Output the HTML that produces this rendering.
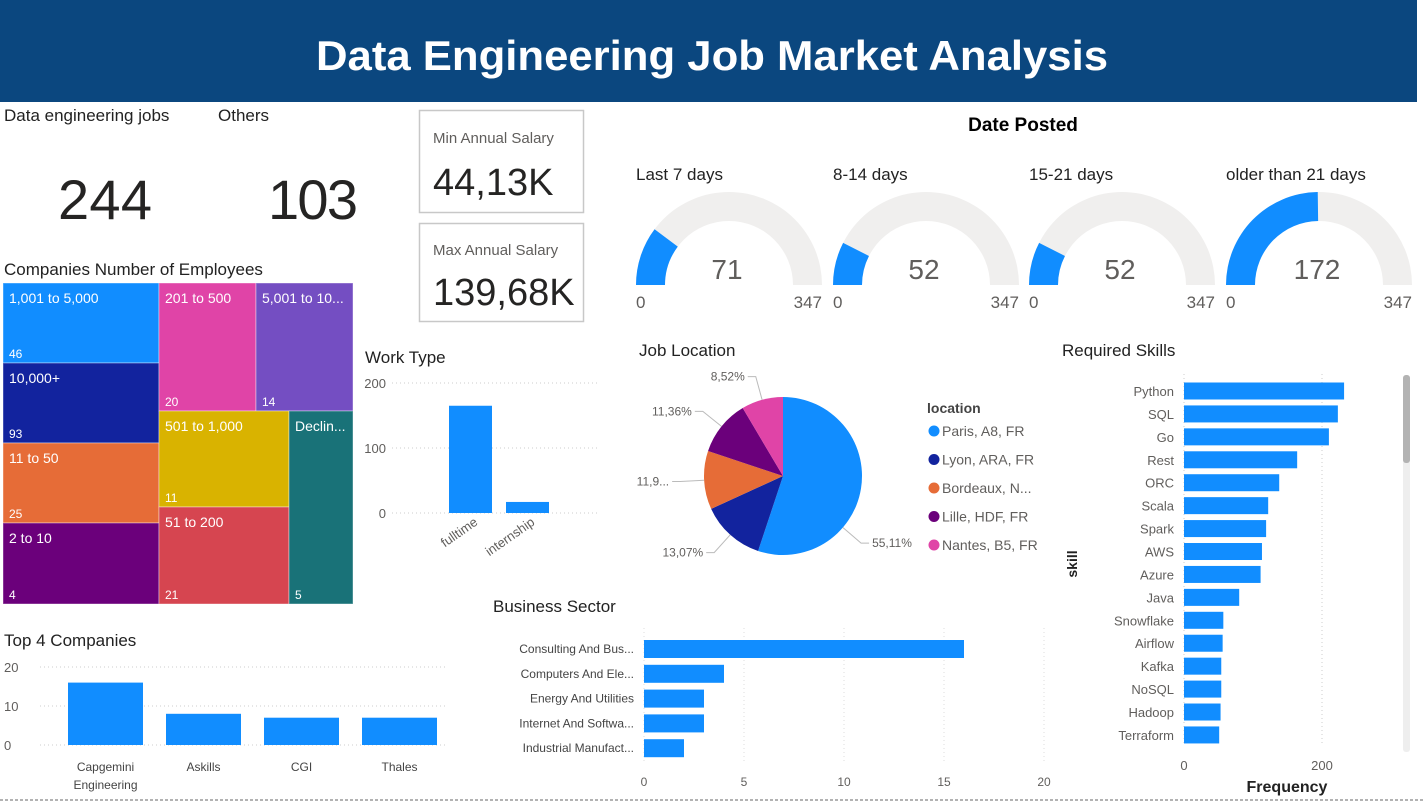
<!DOCTYPE html>
<html><head><meta charset="utf-8">
<style>
html,body{margin:0;padding:0;background:#fff;width:1424px;height:803px;overflow:hidden}
svg{display:block}
text{font-family:"Liberation Sans",sans-serif}
</style></head>
<body>
<svg id="root" width="1424" height="803" viewBox="0 0 1424 803" xmlns="http://www.w3.org/2000/svg">
<rect x="0" y="0" width="1417" height="102" fill="#0B477F"/>
<text x="712" y="70" text-anchor="middle" fill="#fff" font-size="42" font-weight="bold" textLength="792" lengthAdjust="spacingAndGlyphs">Data Engineering Job Market Analysis</text>
<line x1="0" y1="800" x2="1424" y2="800" stroke="#666" stroke-dasharray="3,2"/>

<g>
<text x="4" y="121" font-size="17" fill="#222">Data engineering jobs</text>
<text x="105" y="219" font-size="56" fill="#252423" text-anchor="middle" textLength="94">244</text>
</g>
<g>
<text x="218" y="121" font-size="17" fill="#222">Others</text>
<text x="313" y="219" font-size="56" fill="#252423" text-anchor="middle" textLength="90">103</text>
</g>
<g>
<rect x="419.5" y="110.5" width="164" height="102" fill="#fff" stroke="#c8c8c8" stroke-width="1.5"/>
<text x="433" y="143" font-size="15" fill="#605e5c">Min Annual Salary</text>
<text x="433" y="195" font-size="38" fill="#252423">44,13K</text>
</g>
<g>
<rect x="419.5" y="223.5" width="164" height="98" fill="#fff" stroke="#c8c8c8" stroke-width="1.5"/>
<text x="433" y="255" font-size="15" fill="#605e5c">Max Annual Salary</text>
<text x="433" y="305" font-size="38" fill="#252423">139,68K</text>
</g>

<text x="1023" y="131" text-anchor="middle" font-size="19" font-weight="bold" fill="#000">Date Posted</text>
<g id="gauges"></g>

<text x="4" y="275" font-size="17" fill="#222">Companies Number of Employees</text>
<g id="treemap"></g>

<text x="365" y="363" font-size="17" fill="#222">Work Type</text>
<g id="worktype"></g>

<text x="639" y="356" font-size="17" fill="#222">Job Location</text>
<g id="pie"></g>
<g id="legend"></g>

<text x="1062" y="356" font-size="17" fill="#222">Required Skills</text>
<g id="skills"></g>
<g>
<rect x="1403" y="375" width="7" height="377" rx="3" fill="#eee"/>
<rect x="1403" y="375" width="7" height="88" rx="3" fill="#b3b3b3"/>
</g>

<text x="493" y="612" font-size="17" fill="#222">Business Sector</text>
<g id="business"></g>

<text x="4" y="646" font-size="17" fill="#222">Top 4 Companies</text>
<g id="top4"></g>
</svg>
<script>
const NS="http://www.w3.org/2000/svg";
// ---- data ----
const gaugeLabels=["Last 7 days","8-14 days","15-21 days","older than 21 days"];
const gaugeValues=[71,52,52,172];
const gaugeMax=347;
const treeLabels=["1,001 to 5,000","10,000+","11 to 50","2 to 10","201 to 500","5,001 to 10...","501 to 1,000","51 to 200","Declin..."];
const treeValues=[46,93,25,4,20,14,11,21,5];
const treeColors=["#118DFF","#12239E","#E66C37","#6B007B","#E044A7","#744EC2","#D9B300","#D64550","#197278"];
const workCats=["fulltime","internship"];
const workValues=[165,17];
const workTicks=[0,100,200];
const pieCats=["Paris, A8, FR","Lyon, ARA, FR","Bordeaux, N...","Lille, HDF, FR","Nantes, B5, FR"];
const pieValues=[55.11,13.07,11.94,11.36,8.52];
const pieLabels=["55,11%","13,07%","11,9...","11,36%","8,52%"];
const pieColors=["#118DFF","#12239E","#E66C37","#6B007B","#E044A7"];
const skillCats=["Python","SQL","Go","Rest","ORC","Scala","Spark","AWS","Azure","Java","Snowflake","Airflow","Kafka","NoSQL","Hadoop","Terraform"];
const skillValues=[232,223,210,164,138,122,119,113,111,80,57,56,54,54,53,51];
const skillTicks=[0,200];
const bizCats=["Consulting And Bus...","Computers And Ele...","Energy And Utilities","Internet And Softwa...","Industrial Manufact..."];
const bizValues=[16,4,3,3,2];
const bizTicks=[0,5,10,15,20];
const topCats=[["Capgemini","Engineering"],["Askills"],["CGI"],["Thales"]];
const topValues=[16,8,7,7];
const topTicks=[0,10,20];

function el(tag,attrs,parent,txt){const e=document.createElementNS(NS,tag);for(const k in attrs)e.setAttribute(k,attrs[k]);if(txt!==undefined)e.textContent=txt;parent.appendChild(e);return e;}

// ---- gauges ----
(function(){
 const g=document.getElementById('gauges');
 const cxs=[729,926,1122,1319], cy=285, R=93, r=64;
 gaugeValues.forEach((v,i)=>{
  const cx=cxs[i];
  const grp=el('g',{},g);
  
  
  const path=(f0,f1)=>{const a0=Math.PI*(1-f0),a1=Math.PI*(1-f1);
   const P=(rad,a)=>(cx+rad*Math.cos(a)).toFixed(2)+","+(cy-rad*Math.sin(a)).toFixed(2);
   return `M${P(R,a0)} A${R},${R} 0 0 1 ${P(R,a1)} L${P(r,a1)} A${r},${r} 0 0 0 ${P(r,a0)} Z`;};
  const bg=el('path',{d:path(0,1),fill:"#F0EFEE"},grp);
  
  
  const fg=el('path',{d:path(0,v/gaugeMax),fill:"#118DFF"},grp);
  
  
  const t=el('text',{x:cx-93,y:180,"font-size":17,fill:"#222"},grp,gaugeLabels[i]);
  
  
  const vt=el('text',{x:cx-2,y:279,"font-size":28,fill:"#605e5c","text-anchor":"middle"},grp,v);
  
  
  const mn=el('text',{x:cx-93,y:308,"font-size":17,fill:"#605e5c"},grp,"0");
  
  
  const mx=el('text',{x:cx+93,y:308,"font-size":17,fill:"#605e5c","text-anchor":"end"},grp,gaugeMax);
  
  
 });
})();

// ---- treemap ----
(function(){
 const g=document.getElementById('treemap');
 const boxes=[[3,283,156,80],[3,363,156,80],[3,443,156,80],[3,523,156,81],[159,283,97,128],[256,283,97,128],[159,411,130,96],[159,507,130,97],[289,411,64,193]];
 treeValues.forEach((v,i)=>{
  const b=boxes[i];
  const grp=el('g',{},g);
  
  
  el('rect',{x:b[0],y:b[1],width:b[2],height:b[3],fill:treeColors[i],stroke:"#fff","stroke-opacity":0.4,"stroke-width":1},grp);
  el('text',{x:b[0]+6,y:b[1]+20,"font-size":14,fill:"#fff"},grp,treeLabels[i]);
  el('text',{x:b[0]+6,y:b[1]+b[3]-5,"font-size":12,fill:"#fff"},grp,v);
 });
})();

// ---- work type ----
(function(){
 const g=document.getElementById('worktype');
 const y0=513, sc=0.65, x0=442, step=57, bw=43;
 const Y=v=>y0-v*sc;
 workTicks.forEach(t=>{
  el('line',{x1:392,x2:600,y1:Y(t),y2:Y(t),stroke:"#ccc","stroke-dasharray":"1,3"},g);
  const tt=el('text',{x:386,y:Y(t)+5,"font-size":13,fill:"#605e5c","text-anchor":"end"},g,t);
  
  
 });
 workValues.forEach((v,i)=>{
  const x=x0+7+i*step;
  const r=el('rect',{x:x,y:Y(v),width:bw,height:v*sc,fill:"#118DFF"},g);
  
  
  const cx=x+bw/2+8;
  const t=el('text',{x:cx,y:524,"font-size":13,fill:"#605e5c","text-anchor":"end",transform:`rotate(-35 ${cx} 524)`},g,workCats[i]);
  
  
 });
})();

// ---- pie ----
(function(){
 const g=document.getElementById('pie');
 const cx=783, cy=476, R=79;
 const tot=pieValues.reduce((a,b)=>a+b,0);
 let a=-Math.PI/2;
 pieValues.forEach((v,i)=>{
  const sw=v/tot*2*Math.PI, a1=a+sw;
  const large=sw>Math.PI?1:0;
  const d=`M${cx},${cy} L${cx+R*Math.cos(a)},${cy+R*Math.sin(a)} A${R},${R} 0 ${large} 1 ${cx+R*Math.cos(a1)},${cy+R*Math.sin(a1)} Z`;
  const p=el('path',{d:d,fill:pieColors[i]},g);
  
  
  const m=a+sw/2+(i===0?0.55:0);
  const ex=cx+(R+24)*Math.cos(m), ey=cy+(R+24)*Math.sin(m);
  const right=Math.cos(m)>=0;
  el('polyline',{points:`${cx+R*Math.cos(m)},${cy+R*Math.sin(m)} ${ex},${ey} ${ex+(right?8:-8)},${ey}`,fill:"none",stroke:"#bbb"},g);
  const t=el('text',{x:ex+(right?11:-11),y:ey+4,"font-size":12,fill:"#605e5c","text-anchor":right?"start":"end"},g,pieLabels[i]);
  
  
  a=a1;
 });
 const lg=document.getElementById('legend');
 const lt=el('text',{x:927,y:413,"font-size":14,"font-weight":"bold",fill:"#444"},lg,"location");
 
 
 pieCats.forEach((c,i)=>{
  const y=431+i*28.5;
  const grp=el('g',{},lg);
  
  
  el('circle',{cx:934,cy:y,r:5.5,fill:pieColors[i]},grp);
  el('text',{x:942,y:y+5,"font-size":14,fill:"#605e5c"},grp,c);
 });
})();

// ---- skills ----
(function(){
 const g=document.getElementById('skills');
 const x0=1184, sc=0.69, y0=391, step=22.93, bh=17;
 const X=v=>x0+v*sc;
 skillTicks.forEach(t=>{
  el('line',{x1:X(t),x2:X(t),y1:374,y2:745,stroke:"#ccc","stroke-dasharray":"1,3"},g);
  const tt=el('text',{x:X(t),y:770,"font-size":13,fill:"#605e5c","text-anchor":"middle"},g,t);
  
  
 });
 skillValues.forEach((v,i)=>{
  const y=y0+i*step;
  const r=el('rect',{x:x0,y:y-bh/2,width:v*sc,height:bh,fill:"#118DFF"},g);
  
  
  const t=el('text',{x:1174,y:y+5,"font-size":13,fill:"#605e5c","text-anchor":"end"},g,skillCats[i]);
  
  
 });
 const ya=el('text',{x:1077,y:564,"font-size":14,"font-weight":"bold",fill:"#222","text-anchor":"middle",transform:"rotate(-90 1077 564)"},g,"skill");
 
 
 const xa=el('text',{x:1287,y:792,"font-size":16,"font-weight":"bold",fill:"#222","text-anchor":"middle"},g,"Frequency");
 
 
})();

// ---- business sector ----
(function(){
 const g=document.getElementById('business');
 const x0=644, sc=20, y0=649, step=24.8, bh=18;
 const X=v=>x0+v*sc;
 bizTicks.forEach(t=>{
  el('line',{x1:X(t),x2:X(t),y1:628,y2:762,stroke:"#ddd","stroke-dasharray":"1,3"},g);
  const tt=el('text',{x:X(t),y:786,"font-size":12,fill:"#605e5c","text-anchor":"middle"},g,t);
  
  
 });
 bizValues.forEach((v,i)=>{
  const y=y0+i*step;
  const r=el('rect',{x:x0,y:y-bh/2,width:v*sc,height:bh,fill:"#118DFF"},g);
  
  
  const t=el('text',{x:634,y:y+4,"font-size":12,fill:"#444","text-anchor":"end"},g,bizCats[i]);
  
  
 });
})();

// ---- top 4 companies ----
(function(){
 const g=document.getElementById('top4');
 const y0=745, sc=3.9, x0=68, step=98, bw=75;
 const Y=v=>y0-v*sc;
 topTicks.forEach(t=>{
  el('line',{x1:40,x2:448,y1:Y(t),y2:Y(t),stroke:"#ccc","stroke-dasharray":"1,3"},g);
  const tt=el('text',{x:4,y:Y(t)+5,"font-size":13,fill:"#605e5c"},g,t);
  
  
 });
 topValues.forEach((v,i)=>{
  const x=x0+i*step;
  const r=el('rect',{x:x,y:Y(v),width:bw,height:v*sc,fill:"#118DFF"},g);
  
  
  topCats[i].forEach((ln,j)=>{
   const t=el('text',{x:x+bw/2,y:771+j*18,"font-size":12,fill:"#444","text-anchor":"middle"},g,ln);
   
   
  });
 });
})();
</script>
</body></html>
